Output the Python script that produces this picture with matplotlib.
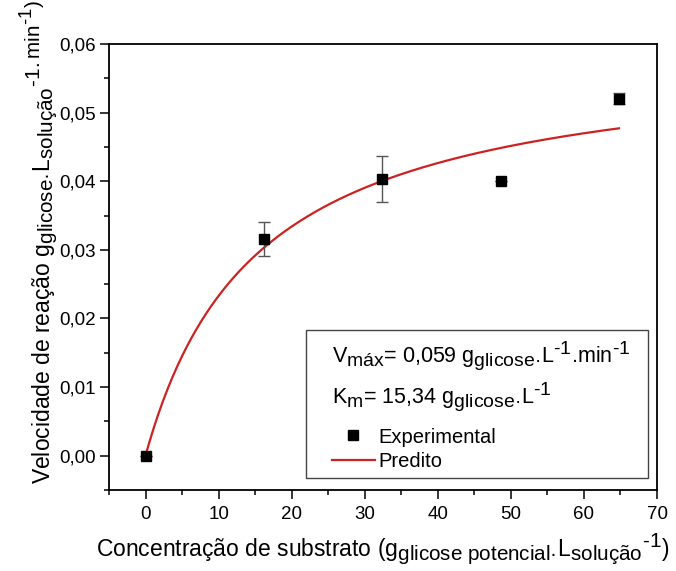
import numpy as np
import matplotlib
matplotlib.use("Agg")
import matplotlib.pyplot as plt
import matplotlib._mathtext as mathtext_core
from matplotlib.patches import Rectangle
from matplotlib.ticker import MultipleLocator, FuncFormatter

plt.rcParams['font.family'] = ['Liberation Sans', 'DejaVu Sans']
plt.rcParams['mathtext.fontset'] = 'custom'
plt.rcParams['mathtext.rm'] = 'Liberation Sans'
plt.rcParams['mathtext.it'] = 'Liberation Sans'
plt.rcParams['mathtext.default'] = 'regular'
# indices quase do tamanho do texto principal
mathtext_core.SHRINK_FACTOR = 0.9

# ensaios experimentais
substrato = [0.0, 16.2, 32.4, 48.6, 64.8]
velocidade = [0.0, 0.0316, 0.0403, 0.0400, 0.0520]
desvio = [0.0, 0.0025, 0.0033, 0.0, 0.0008]

# parametros ajustados de Michaelis-Menten
v_max = 0.059
k_m = 15.34

s = np.linspace(0, max(substrato), 300)
v_pred = v_max * s / (k_m + s)

fig = plt.figure(figsize=(6.76, 5.71), dpi=100)
ax = fig.add_axes([0.1612, 0.1419, 0.8107, 0.7811])

linha, = ax.plot(s, v_pred, color='#cc2222', lw=1.6, label='Predito', zorder=2)
ax.errorbar(substrato, velocidade, yerr=desvio, fmt='none', ecolor='#555555',
            elinewidth=1, capsize=4, capthick=1, zorder=3)
pontos, = ax.plot(substrato, velocidade, 's', color='black', ms=7,
                  label='Experimental', zorder=4)

ax.set_xlim(-5, 70)
ax.set_ylim(-0.005, 0.06)
ax.xaxis.set_major_locator(MultipleLocator(10))
ax.xaxis.set_minor_locator(MultipleLocator(5))
ax.yaxis.set_major_locator(MultipleLocator(0.01))
ax.yaxis.set_minor_locator(MultipleLocator(0.005))
ax.yaxis.set_major_formatter(FuncFormatter(lambda v, p: f"{v:.2f}".replace('.', ',')))
ax.tick_params(which='major', direction='out', length=6.5, width=1.1, labelsize=13.5, pad=3)
ax.tick_params(which='minor', direction='out', length=3.5, width=1.1)
ax.tick_params(axis='x', which='major', pad=5)
for sp in ax.spines.values():
    sp.set_linewidth(1.3)

um = r"\text{-}1"
ax.set_xlabel("Concentração de substrato (g$_{glicose\\ potencial·}$L$_{solução}{}^{%s}$)" % um,
              fontsize=16.5, labelpad=5)
ax.set_ylabel("Velocidade de reação g$_{glicose·}$L$_{solução}{}^{%s}{}^{.min^{%s})}$" % (um, um),
              fontsize=16.5)
ax.yaxis.set_label_coords(-0.09, 0.555)

# caixa com os parametros
ax.add_patch(Rectangle((0.3595, 0.0269), 0.6241, 0.3318, transform=ax.transAxes,
                       fill=False, ec='#444444', lw=1, zorder=5))
ax.text(0.407, 0.287, "V$_{máx}$= 0,059 g$_{glicose·}$L$^{%s}$.min$^{%s}$" % (um, um),
        transform=ax.transAxes, fontsize=15.5, va='baseline')
ax.text(0.407, 0.195, "K$_{m}$= 15,34 g$_{glicose·}$L$^{%s}$" % um,
        transform=ax.transAxes, fontsize=15.5, va='baseline')
ax.legend(handles=[pontos, linha], loc='upper left', bbox_to_anchor=(0.407, 0.14),
          frameon=False, fontsize=14.5, handlelength=2.13, handletextpad=0.15,
          borderpad=0, borderaxespad=0, labelspacing=0.25)

fig.savefig('out.png', dpi=100)
